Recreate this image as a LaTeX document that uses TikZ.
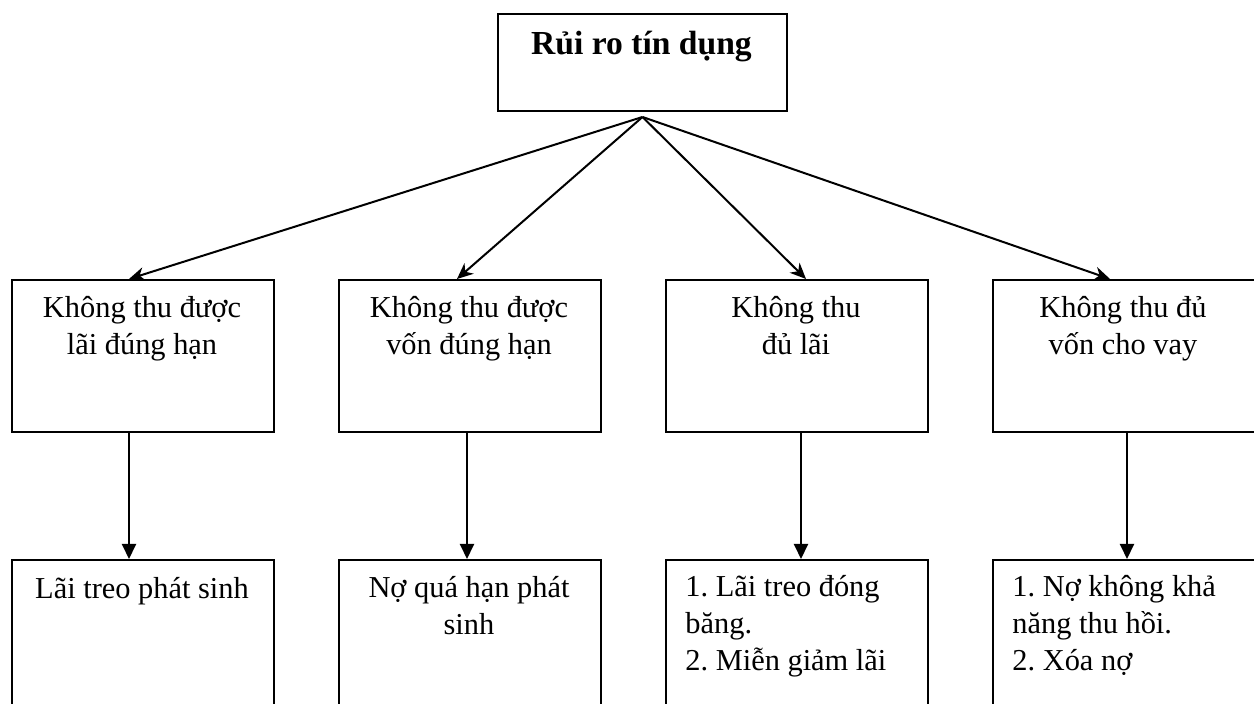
\documentclass[tikz,border=0pt]{standalone}
\usepackage{fontspec}
\setmainfont{Liberation Serif}
\usetikzlibrary{arrows.meta}
\frenchspacing
\tikzset{
  boxshape/.style={draw, line width=1pt, rectangle, inner sep=0pt, anchor=north west},
  txt/.style={inner sep=0pt, font=\fontsize{15.2}{18.7}\selectfont, anchor=base},
  diag/.style={line width=1pt, -{Stealth[length=8pt,width=7pt,inset=2.5pt]}},
  vert/.style={line width=1pt, -{Triangle[length=7.5pt,width=7pt]}},
}
\begin{document}
\begin{tikzpicture}[x=0.5pt,y=-0.5pt]
\useasboundingbox (0,0) rectangle (1254,704);
% top box
\node[boxshape, minimum width=144.5pt, minimum height=48.5pt] (top) at (497,13) {};
\node[txt, font=\fontsize{16.8}{19}\selectfont\bfseries] (ttop) at (641.5,55) {Rủi ro tín dụng};
\coordinate (apex) at ([yshift=-2.5pt]top.south);
% row 1
\node[boxshape, minimum width=131pt, minimum height=76pt] (b1) at (11,279) {};
\node[boxshape, minimum width=131pt, minimum height=76pt] (b2) at (338,279) {};
\node[boxshape, minimum width=131pt, minimum height=76pt] (b3) at (665,279) {};
\node[boxshape, minimum width=131pt, minimum height=76pt] (b4) at (992,279) {};
\node[txt, align=center] (t1) at (142,355) {Không thu được\\lãi đúng hạn};
\node[txt, align=center] (t2) at (469,355) {Không thu được\\vốn đúng hạn};
\node[txt, align=center] (t3) at (796,355) {Không thu\\đủ lãi};
\node[txt, align=center] (t4) at (1123,355) {Không thu đủ\\vốn cho vay};
% row 2
\node[boxshape, minimum width=131pt, minimum height=100pt] (c1) at (11,559) {};
\node[boxshape, minimum width=131pt, minimum height=100pt] (c2) at (338,559) {};
\node[boxshape, minimum width=131pt, minimum height=100pt] (c3) at (665,559) {};
\node[boxshape, minimum width=131pt, minimum height=100pt] (c4) at (992,559) {};
\node[txt, align=center] (u1) at (142,599) {Lãi treo phát sinh};
\node[txt, align=center] (u2) at (469,635) {Nợ quá hạn phát\\sinh};
\node[txt, align=left, anchor=base west] (u3) at (685,671) {1. Lãi treo đóng\\băng.\\2. Miễn giảm lãi};
\node[txt, align=left, anchor=base west] (u4) at (1012,671) {1. Nợ không khả\\năng thu hồi.\\2. Xóa nợ};
% connectors
\draw[diag] (apex) -- ([xshift=-7pt]b1.north);
\draw[diag] (apex) -- ([xshift=-6.5pt]b2.north);
\draw[diag] (apex) -- ([xshift=4.5pt]b3.north);
\draw[diag] (apex) -- ([xshift=-7pt]b4.north);
\draw[vert] ([xshift=-7pt]b1.south) -- ([xshift=-7pt]c1.north);
\draw[vert] ([xshift=-1.5pt]b2.south) -- ([xshift=-1.5pt]c2.north);
\draw[vert] ([xshift=2pt]b3.south) -- ([xshift=2pt]c3.north);
\draw[vert] ([xshift=1.5pt]b4.south) -- ([xshift=1.5pt]c4.north);
\end{tikzpicture}
\end{document}
